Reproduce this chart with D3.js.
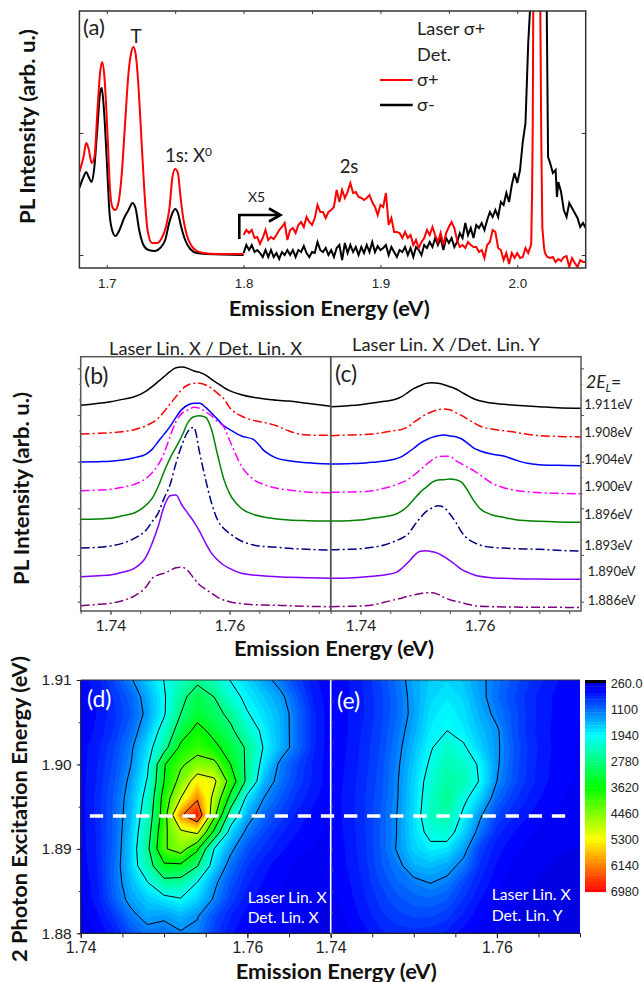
<!DOCTYPE html>
<html>
<head>
<meta charset="utf-8">
<script src="https://cdn.jsdelivr.net/npm/d3@7"></script>
<style>
html, body { margin: 0; padding: 0; background: #fff; }
svg { display: block; }
text { font-family: Lato, sans-serif; fill: #222; }
.num { font-family: "Liberation Sans", Arial, sans-serif; }
.bold { font-weight: 700; fill: #111; }
</style>
</head>
<body>
<div id="chart"></div>
<script>
// panel (a): smooth part below 1.8 eV, [energy, intensity]
const aRedSmooth = [[1.68,83],[1.683,98],[1.685,112],[1.6866,107],[1.689,92],[1.691,98],[1.6932,145],[1.6951,182],[1.6966,193],[1.6983,178],[1.7005,122],[1.7024,65],[1.7041,48],[1.7061,45],[1.7085,52],[1.711,82],[1.7134,132],[1.7159,182],[1.7178,202],[1.7195,208],[1.7212,200],[1.7232,168],[1.7251,122],[1.7273,68],[1.7298,25],[1.733,12],[1.7366,12],[1.7402,17],[1.7432,28],[1.7459,48],[1.748,78],[1.75,86],[1.752,82],[1.7539,58],[1.7561,35],[1.7585,20],[1.7615,10],[1.7659,4],[1.7707,2],[1.78,1],[1.8,1]];
const aBlackSmooth = [[1.68,67],[1.683,78],[1.685,83],[1.6868,78],[1.689,73],[1.6907,85],[1.6932,128],[1.6951,162],[1.6963,167],[1.6978,148],[1.7,95],[1.702,42],[1.7039,25],[1.7063,19],[1.7093,25],[1.7127,37],[1.7159,45],[1.7188,52],[1.721,47],[1.7237,25],[1.7268,10],[1.7305,5],[1.7354,4],[1.739,7],[1.7427,15],[1.7456,32],[1.748,42],[1.75,46],[1.752,42],[1.7544,28],[1.7573,15],[1.761,6],[1.7659,2],[1.7732,1],[1.8,0]];
// x5 part, one reading every 2 meV from 1.8 eV
const aNoiseStart = 1.8;
const aNoiseStep = 0.002;
const aRedNoise = [20,25,22,25,17,18,11,17,25,15,18,16,20,25,28,32,15,25,27,22,30,33,28,38,33,30,37,50,43,43,37,43,45,48,65,53,65,57,63,72,62,63,58,57,55,57,60,53,48,40,50,48,62,30,37,23,23,22,17,23,17,20,10,15,7,13,17,25,20,28,20,13,22,10,22,28,33,27,15,8,10,7,13,10,8,8,3,5,-3,10,13,25,23,7,5,-5,2,-9,2,-3,2,-3,-2,7,2,10];
const aBlackNoise = [2,10,5,10,3,5,2,-2,5,-2,5,-2,2,-4,3,0,5,0,5,-2,5,3,9,2,-2,3,2,13,5,3,7,0,5,-2,7,10,-5,12,2,10,3,8,0,8,2,10,3,13,3,9,5,7,10,0,8,3,-2,5,3,8,0,7,-2,8,5,0,10,7,13,8,17,10,17,5,17,12,17,8,13,22,17,32,20,27,17,30,27,32,25,35,43,38,45,38,53,50,62,53,70,82,72,85,113,132];
const aRedPeak = [[2.0102,12],[2.0108,60],[2.0113,130],[2.0117,250],[2.014,420],[2.0168,250],[2.0175,120],[2.0183,28],[2.0195,8],[2.0202,2],[2.022,-2],[2.024,-3],[2.026,-2],[2.028,-7],[2.03,-4],[2.032,-6],[2.034,-2],[2.036,-1],[2.038,-12],[2.04,-3],[2.042,-8],[2.044,-12],[2.046,-5],[2.048,-7],[2.05,-7]];
const aBlackPeak = [[2.008,212],[2.0095,250],[2.011,420],[2.02,420],[2.0215,250],[2.0225,98],[2.024,92],[2.026,82],[2.028,85],[2.029,58],[2.03,73],[2.032,63],[2.034,45],[2.036,38],[2.038,52],[2.04,47],[2.042,42],[2.044,37],[2.046,28],[2.048,32],[2.05,27]];
const aXTicks = [1.7, 1.8, 1.9, 2.0];

// panels (b) and (c)
const spectrumE = [1.735,1.738,1.74,1.742,1.744,1.746,1.747,1.748,1.749,1.75,1.751,1.752,1.753,1.754,1.755,1.756,1.757,1.758,1.759,1.76,1.762,1.764,1.766,1.768,1.77,1.773,1.777];
const excitationLabels = ["1.911eV","1.908eV","1.904eV","1.900eV","1.896eV","1.893eV","1.890eV","1.886eV"];
const curveColors = ["#000000","#ff0000","#0000ff","#ff00ff","#008000","#000080","#8000ff","#800080"];
const curveDashed = [false,true,false,true,false,true,false,true];
const specB = [
  [617,623,628,635,643,660,673,688,703,718,730,732,728,720,716,708,695,683,671,661,649,641,636,632,630,623,614],
  [531,533,535,538,544,556,565,578,598,621,643,665,678,683,683,678,668,653,638,611,585,572,565,555,540,528,527],
  [447,448,449,453,460,471,485,508,530,553,581,605,618,623,623,611,593,575,556,545,525,515,478,458,451,445,441],
  [361,363,365,371,380,398,415,438,473,523,568,593,603,611,608,598,585,568,553,513,435,395,378,368,363,357,355],
  [275,276,278,286,294,318,338,373,418,458,491,525,565,583,586,581,543,468,398,353,308,290,281,276,273,271,270],
  [189,191,195,203,218,243,268,293,338,378,443,498,538,551,473,393,323,273,248,233,210,198,193,191,188,185,183],
  [103,106,108,116,128,163,203,253,313,346,348,318,293,268,238,203,173,153,138,128,113,108,105,103,101,100,98],
  [16,20,23,31,45,73,98,108,113,121,130,131,121,98,78,65,53,41,33,28,22,19,18,17,16,14,13]
];
const specC = [
  [613,616,619,624,629,636,644,656,668,676,683,685,683,679,673,666,656,646,637,631,624,620,617,615,613,610,608],
  [526,528,529,531,536,542,545,553,567,579,590,598,604,606,604,595,586,575,565,555,546,541,536,530,526,524,522],
  [441,442,443,446,450,457,464,476,489,503,513,521,526,528,525,523,516,503,489,481,471,465,453,443,439,437,436],
  [356,357,358,361,368,379,386,395,408,423,439,453,463,464,464,451,441,431,421,409,384,370,362,358,355,353,352],
  [270,271,273,278,283,291,301,316,336,356,371,386,393,394,396,394,386,361,331,308,289,281,274,271,269,267,266],
  [184,185,187,191,198,211,219,231,256,279,298,309,316,311,291,266,236,216,206,198,191,189,187,186,185,182,180],
  [98,99,101,104,108,116,129,146,166,179,181,178,173,163,151,138,124,116,109,104,100,98,97,96,96,95,95],
  [13,14,15,18,26,35,39,45,48,52,55,55,50,41,34,29,25,20,16,14,13,12,12,11,11,11,10]
];

// panels (d) and (e): rows run from 1.91 eV down to 1.88 eV
const mapEmission = [1.74,1.742,1.744,1.746,1.748,1.75,1.752,1.754,1.756,1.758,1.76,1.762,1.764,1.766,1.768,1.77];
const mapExcitation = [1.91,1.908,1.906,1.904,1.902,1.9,1.898,1.896,1.894,1.892,1.89,1.888,1.886,1.884,1.882,1.88];
const mapD = [
  [500,650,900,1250,1630,2010,2350,2650,2400,1980,1700,1430,1150,850,600,500],
  [500,600,800,1050,1470,1940,2600,3150,2800,2200,1870,1630,1390,1000,650,500],
  [500,580,750,1000,1400,1940,2800,3280,3000,2650,2030,1760,1500,1100,700,500],
  [500,600,800,1100,1550,2230,3150,3700,3320,2910,2360,1860,1510,1100,700,500],
  [520,650,880,1230,1750,2550,3650,3950,3650,3230,2700,1950,1520,1100,700,500],
  [520,680,920,1290,1880,3450,4100,4500,4400,3500,2660,1770,1200,900,650,500],
  [520,700,980,1390,2040,3500,4430,5400,5150,3910,2620,1530,1150,850,650,500],
  [520,720,1020,1480,2200,3760,5000,6100,4790,3280,1810,1290,1000,750,600,480],
  [520,720,1040,1520,2340,3840,6100,6900,4410,2430,1480,1100,850,650,530,460],
  [520,700,1040,1590,2500,4040,4860,5150,3360,1740,1200,900,700,580,500,450],
  [520,700,1050,1640,2650,4130,4500,3600,2000,1390,950,750,600,500,460,430],
  [500,680,1100,1640,2500,3380,3370,2830,1720,1130,800,620,500,450,420,400],
  [480,650,1090,1540,1970,2600,2550,1980,1390,960,700,560,480,430,400,380],
  [450,630,1030,1420,1650,1800,1950,1700,1250,850,620,500,430,400,380,360],
  [420,550,800,1170,1440,1370,1520,1320,950,680,520,430,400,380,360,350],
  [400,480,650,950,1150,1100,1260,1220,850,600,470,400,370,350,340,330]
];
const mapE = [
  [480,560,700,900,1150,1450,1650,1720,1600,1380,1150,950,780,650,540,480],
  [480,560,680,850,1100,1420,1700,1820,1700,1400,1120,900,720,600,520,470],
  [490,570,680,850,1100,1400,1780,1930,1770,1480,1200,950,730,600,520,470],
  [490,570,700,880,1150,1470,1850,2000,1850,1580,1350,950,720,590,510,460],
  [500,580,720,900,1200,1560,1950,2300,2060,1680,1360,1000,750,600,510,460],
  [500,590,730,930,1240,1640,2070,2450,2300,1920,1350,980,730,590,510,460],
  [510,600,750,950,1270,1700,2200,2560,2430,1950,1300,950,720,580,500,450],
  [510,610,770,970,1280,1720,2280,2700,2110,1680,1100,820,650,530,470,430],
  [510,610,770,1000,1310,1750,2350,2500,1900,1350,900,700,570,480,440,420],
  [500,600,760,1000,1310,1750,2150,2250,1700,1150,720,580,490,430,400,390],
  [490,590,750,1000,1330,1680,1880,1800,1430,850,620,500,430,390,370,360],
  [470,580,730,970,1200,1500,1560,1450,1180,760,560,450,390,370,350,340],
  [450,550,700,900,1080,1210,1310,1200,900,670,500,410,370,350,340,330],
  [430,520,660,830,960,1050,1080,1000,780,580,450,380,350,340,330,320],
  [410,490,610,750,850,900,900,820,650,500,400,350,330,320,310,300],
  [380,440,540,650,720,740,720,650,520,430,360,320,300,290,290,280]
];
const contourLevelsD = [1300,2000,2800,3500,4200,5000,6200];
const contourLevelsE = [1300,2000];
const colorbarLabels = ["260.0","1100","1940","2780","3620","4460","5300","6140","6980"];
const colorbarTicks = [260,1100,1940,2780,3620,4460,5300,6140,6980];
const dashedEnergy = 1.8939;

const width = 644, height = 982;
const svg = d3.select("#chart").append("svg").attr("width", width).attr("height", height);
const defs = svg.append("defs");

function addClip(id, x0, y0, x1, y1) {
  defs.append("clipPath").attr("id", id).append("rect")
    .attr("x", x0).attr("y", y0).attr("width", x1 - x0).attr("height", y1 - y0);
}

function addText(str, x, y, size, opts) {
  opts = opts || {};
  const t = svg.append("text").attr("x", x).attr("y", y).attr("font-size", size).text(str);
  if (opts.cls) t.attr("class", opts.cls);
  if (opts.anchor) t.attr("text-anchor", opts.anchor);
  if (opts.fill) t.style("fill", opts.fill);
  if (opts.length) t.attr("textLength", opts.length).attr("lengthAdjust", "spacingAndGlyphs");
  if (opts.rotate) t.attr("transform", `rotate(-90 ${x} ${y})`);
  return t;
}

function styleAxis(g, color, sw, fontCls, fontSize) {
  g.selectAll(".domain").remove();
  g.selectAll("line").attr("stroke", color).attr("stroke-width", sw);
  g.selectAll("text").attr("class", fontCls).attr("font-size", fontSize).style("fill", "#222");
}

// ---------- panel a
const aX = d3.scaleLinear().domain([1.68, 2.05]).range([79.4, 585.7]);
const aY = d3.scaleLinear().domain([-13, 244]).range([268, 11]);
addClip("clipA", 79.4, 11, 585.7, 268);

const aLine = d3.line().x(d => aX(d[0])).y(d => aY(d[1]));
const aSmoothLine = d3.line().x(d => aX(d[0])).y(d => aY(d[1])).curve(d3.curveMonotoneX);
const withEnergy = vals => vals.map((v, i) => [aNoiseStart + i * aNoiseStep, v]);
const aPlot = svg.append("g").attr("clip-path", "url(#clipA)").attr("fill", "none").attr("stroke-width", 2);
aPlot.append("path").attr("d", aSmoothLine(aBlackSmooth)).attr("stroke", "#000");
aPlot.append("path").attr("d", aLine(withEnergy(aBlackNoise).concat(aBlackPeak))).attr("stroke", "#000");
aPlot.append("path").attr("d", aSmoothLine(aRedSmooth)).attr("stroke", "#ff0000");
aPlot.append("path").attr("d", aLine(withEnergy(aRedNoise).concat(aRedPeak))).attr("stroke", "#ff0000");

svg.append("rect").attr("x", 79.4).attr("y", 11).attr("width", 506.3).attr("height", 257)
  .attr("fill", "none").attr("stroke", "#333").attr("stroke-width", 1.5);
svg.append("g").attr("transform", "translate(0,268)")
  .call(d3.axisBottom(aX).tickValues(aXTicks).tickSize(-3).tickPadding(10).tickFormat(d3.format(".1f")))
  .call(styleAxis, "#333", 1, "num", 13.4);
svg.append("g").attr("transform", "translate(0,11)")
  .call(d3.axisTop(aX).tickValues(aXTicks.concat([1.75, 1.85, 1.95])).tickSize(-3).tickFormat(""))
  .call(styleAxis, "#333", 1, "num", 13);
svg.append("g").attr("transform", "translate(79.4,0)")
  .call(d3.axisLeft(aY).tickValues([0, 122]).tickSize(-4).tickFormat(""))
  .call(styleAxis, "#333", 1, "num", 13);
svg.append("g").attr("transform", "translate(585.7,0)")
  .call(d3.axisRight(aY).tickValues([0, 122]).tickSize(-4).tickFormat(""))
  .call(styleAxis, "#333", 1, "num", 13);

addText("PL Intensity (arb. u.)", 35, 224, 20.5, { cls: "bold", length: 195, rotate: true });
addText("Emission Energy (eV)", 228.7, 316, 20.5, { cls: "bold", length: 201 });
addText("(a)", 83, 35, 22);
addText("T", 136, 43, 19, { anchor: "middle" });
const x0Label = addText("1s: X", 165, 162, 18.5);
x0Label.append("tspan").attr("font-size", 12).attr("dy", -6).text("0");
addText("X5", 248, 202, 14);
addText("2s", 349, 173, 18.5, { anchor: "middle" });
addText("Laser σ+", 417, 35, 18.2);
addText("Det.", 417, 61, 18.2);
addText("σ+", 417, 86, 18.2);
addText("σ-", 417, 111, 18.2);
svg.append("line").attr("x1", 380).attr("x2", 412.7).attr("y1", 80).attr("y2", 80).attr("stroke", "#ff0000").attr("stroke-width", 2);
svg.append("line").attr("x1", 380).attr("x2", 412.7).attr("y1", 105).attr("y2", 105).attr("stroke", "#000").attr("stroke-width", 2.4);

// x5 arrow
svg.append("path").attr("d", "M239.3,239V215H280").attr("fill", "none").attr("stroke", "#000").attr("stroke-width", 2.6);
svg.append("path").attr("d", "M269,208.5L280.5,215L269,221.5").attr("fill", "none").attr("stroke", "#000").attr("stroke-width", 2.6);

// ---------- panels b, c
const bX = d3.scaleLinear().domain([1.735, 1.777]).range([80.7, 330.7]);
const cX = d3.scaleLinear().domain([1.735, 1.777]).range([330.7, 581]);
const specY = d3.scaleLinear().domain([0, 763]).range([611, 356.7]);
const specTicksX = d3.range(1.735, 1.7771, 0.005);
const specMajorY = d3.range(28, 763, 140);
const specMinorY = d3.range(28, 763, 46.67);

function drawSpectra(series, x) {
  const line = d3.line().x((d, i) => x(spectrumE[i])).y(d => specY(d)).curve(d3.curveMonotoneX);
  svg.append("g").attr("fill", "none").attr("stroke-width", 1.5)
    .selectAll("path").data(series).enter().append("path")
    .attr("d", d => line(d))
    .attr("stroke", (d, i) => curveColors[i])
    .attr("stroke-dasharray", (d, i) => curveDashed[i] ? "9,3,2,3" : null);
}
drawSpectra(specB, bX);
drawSpectra(specC, cX);

[[80.7, 250], [330.7, 250.3]].forEach(f => {
  svg.append("rect").attr("x", f[0]).attr("y", 356.7).attr("width", f[1]).attr("height", 254.3)
    .attr("fill", "none").attr("stroke", "#555").attr("stroke-width", 1.5);
});
[bX, cX].forEach(x => {
  svg.append("g").attr("transform", "translate(0,611)")
    .call(d3.axisBottom(x).tickValues(specTicksX).tickSize(3).tickFormat(""))
    .call(styleAxis, "#555", 1, "num", 15);
  svg.append("g").attr("transform", "translate(0,611)")
    .call(d3.axisBottom(x).tickValues([1.74, 1.76]).tickSize(4).tickPadding(5).tickFormat(d3.format(".2f")))
    .call(styleAxis, "#555", 1, "tick", 15.6);
});
[[80.7, d3.axisLeft], [581, d3.axisRight]].forEach(s => {
  svg.append("g").attr("transform", `translate(${s[0]},0)`)
    .call(s[1](specY).tickValues(specMinorY).tickSize(1.5).tickFormat(""))
    .call(styleAxis, "#777", 1, "num", 12);
  svg.append("g").attr("transform", `translate(${s[0]},0)`)
    .call(s[1](specY).tickValues(specMajorY).tickSize(3).tickFormat(""))
    .call(styleAxis, "#555", 1, "num", 12);
});

addText("PL Intensity (arb. u.)", 28.5, 585, 20.5, { cls: "bold", length: 193, rotate: true });
addText("Emission Energy (eV)", 234, 656, 20.5, { cls: "bold", length: 200 });
addText("Laser Lin. X / Det. Lin. X", 109, 355, 16.5, { length: 193 });
addText("Laser Lin. X /Det. Lin. Y", 352, 351, 16.5, { length: 188 });
addText("(b)", 84, 384, 23);
addText("(c)", 335, 382, 23);
const elLabel = addText("2E", 586, 388, 17.5).style("font-style", "italic");
elLabel.append("tspan").attr("font-size", 11.5).attr("dy", 4).text("L");
elLabel.append("tspan").attr("font-size", 17.5).attr("dy", -4).style("font-style", "normal").text("=");
const excitationX = [584.3, 584.3, 584.3, 584.3, 584.3, 584.3, 587.7, 587.7];
const excitationY = [409, 437, 464, 491, 519, 550, 576, 605];
excitationLabels.forEach((s, i) => addText(s, excitationX[i], excitationY[i], 12.4, { length: 48 }));

// ---------- panels d, e
const dX = d3.scaleLinear().domain([1.74, 1.77]).range([80.7, 330.7]);
const eX = d3.scaleLinear().domain([1.74, 1.77]).range([330.7, 580]);
const mapY = d3.scaleLinear().domain([1.88, 1.91]).range([933.3, 680]);
const colorScale = d3.scaleLinear()
  .domain([300, 500, 1940, 3620, 5300, 6980])
  .range(["#0000e0", "#0000ff", "#00ffff", "#00ff00", "#ffff00", "#ff0000"])
  .clamp(true);
const bandStep = 105;
const bandEdges = d3.range(260, 6980, bandStep);

function drawMap(rows, x, levels, clipId) {
  const nx = mapEmission.length, ny = mapExcitation.length;
  const values = rows.flat();
  const ix = d3.scaleLinear().domain([0.5, nx - 0.5]).range([x(mapEmission[0]), x(mapEmission[nx - 1])]);
  const iy = d3.scaleLinear().domain([0.5, ny - 0.5]).range([mapY(mapExcitation[0]), mapY(mapExcitation[ny - 1])]);
  const path = d3.geoPath(d3.geoTransform({
    point: function(px, py) { this.stream.point(ix(px), iy(py)); }
  }));
  addClip(clipId, x.range()[0], 680, x.range()[1], 933.3);
  const g = svg.append("g").attr("clip-path", `url(#${clipId})`);
  g.append("rect").attr("x", x.range()[0]).attr("y", 680).attr("width", x.range()[1] - x.range()[0]).attr("height", 253.3)
    .attr("fill", colorScale(260));
  const gen = d3.contours().size([nx, ny]);
  g.selectAll(".band").data(gen.thresholds(bandEdges)(values)).enter().append("path")
    .attr("class", "band")
    .attr("d", path)
    .attr("fill", d => colorScale(d.value + bandStep / 2));
  g.selectAll(".level").data(gen.thresholds(levels)(values)).enter().append("path")
    .attr("class", "level")
    .attr("d", path)
    .attr("fill", "none").attr("stroke", "#000").attr("stroke-width", 1);
}
drawMap(mapD, dX, contourLevelsD, "clipD");
drawMap(mapE, eX, contourLevelsE, "clipE");

svg.append("line").attr("x1", 80.7).attr("x2", 580).attr("y1", 680).attr("y2", 680).attr("stroke", "#333").attr("stroke-width", 1);
svg.append("line").attr("x1", 330.7).attr("x2", 330.7).attr("y1", 680).attr("y2", 933).attr("stroke", "#fff").attr("stroke-width", 1.6);
svg.append("line").attr("x1", 80.7).attr("x2", 80.7).attr("y1", 680).attr("y2", 933.3).attr("stroke", "#222").attr("stroke-width", 1);

[dX, eX].forEach(x => {
  svg.append("g").attr("transform", "translate(0,933.3)")
    .call(d3.axisBottom(x).tickValues(d3.range(1.74, 1.7701, 0.005)).tickSize(4).tickFormat(""))
    .call(styleAxis, "#222", 1, "num", 15.8);
  svg.append("g").attr("transform", "translate(0,933.3)")
    .call(d3.axisBottom(x).tickValues([1.74, 1.76]).tickSize(5).tickPadding(3).tickFormat(d3.format(".2f")))
    .call(styleAxis, "#222", 1, "num", 15.8);
});
svg.append("line").attr("x1", 80.7).attr("x2", 580).attr("y1", 933.3).attr("y2", 933.3).attr("stroke", "#222").attr("stroke-width", 1.2);
svg.append("g").attr("transform", "translate(80.7,0)")
  .call(d3.axisLeft(mapY).tickValues(d3.range(1.88, 1.9101, 0.005)).tickSize(2).tickFormat(""))
  .call(styleAxis, "#222", 1, "num", 15.5);
svg.append("g").attr("transform", "translate(80.7,0)")
  .call(d3.axisLeft(mapY).tickValues([1.88, 1.89, 1.9, 1.91]).tickSize(4).tickPadding(5).tickFormat(d3.format(".2f")))
  .call(styleAxis, "#222", 1, "num", 15.5);
svg.append("g").attr("transform", "translate(330.7,0)")
  .call(d3.axisRight(mapY).tickValues(d3.range(1.88, 1.9101, 0.0025)).tickSize(2).tickFormat(""))
  .call(styleAxis, "#888", 1, "num", 12);

svg.append("line").attr("x1", dX(1.7411)).attr("x2", eX(1.7692))
  .attr("y1", mapY(dashedEnergy)).attr("y2", mapY(dashedEnergy))
  .attr("stroke", "#fff").attr("stroke-width", 3.4).attr("stroke-dasharray", "13.3,9.8");

addText("2 Photon Excitation Energy (eV)", 27, 962, 20.5, { cls: "bold", length: 306, rotate: true });
addText("Emission Energy (eV)", 235.7, 979, 20.5, { cls: "bold", length: 201 });
addText("(d)", 87, 707, 23, { fill: "#fff" });
addText("(e)", 337, 709, 23, { fill: "#fff" });
addText("Laser Lin. X", 247.7, 903, 15.2, { fill: "#fff", length: 79 });
addText("Det. Lin. X", 247.7, 923, 15.2, { fill: "#fff", length: 71 });
addText("Laser Lin. X", 491.7, 900, 15.2, { fill: "#fff", length: 79 });
addText("Det. Lin. Y", 491.7, 921, 15.2, { fill: "#fff", length: 71 });

// colour bar
const barY = d3.scaleLinear().domain([260, 6980]).range([683, 891.7]);
svg.append("rect").attr("x", 585).attr("y", 680).attr("width", 21).attr("height", 3.2).attr("fill", "#000");
svg.append("g").selectAll("rect").data(bandEdges).enter().append("rect")
  .attr("x", 585).attr("width", 21)
  .attr("y", d => barY(d))
  .attr("height", d => barY(Math.min(d + bandStep, 6980)) - barY(d) + 0.4)
  .attr("fill", d => colorScale(d + bandStep / 2));
colorbarTicks.forEach((v, i) => {
  addText(colorbarLabels[i], 610.7, barY(v) + 4.6, 12.7, { cls: "num" });
});
</script>
</body>
</html>
